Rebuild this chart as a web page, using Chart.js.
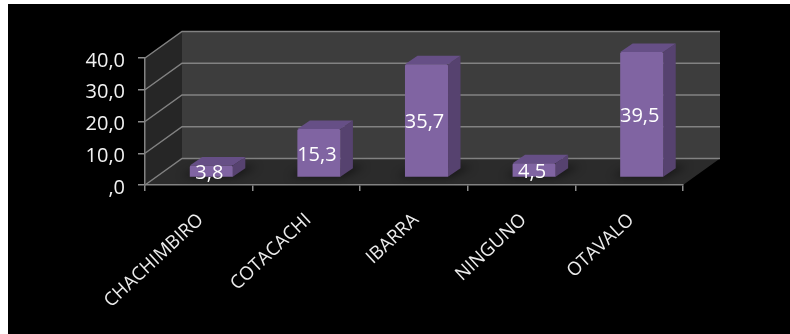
<!DOCTYPE html>
<html><head><meta charset="utf-8">
<style>html,body{margin:0;padding:0;background:#fff}canvas{display:block}</style>
<script src="https://cdn.jsdelivr.net/npm/chart.js@4"></script>
</head><body>
<div style="width:790px;height:334px"><canvas id="c" width="790" height="334"></canvas></div>
<script>
const categories = ["CHACHIMBIRO","COTACACHI","IBARRA","NINGUNO","OTAVALO"];
const seriesValues = [3.8,15.3,35.7,4.5,39.5];
const valueLabels = ["3,8","15,3","35,7","4,5","39,5"];
const yTickLabels = {0:",0",10:"10,0",20:"20,0",30:"30,0",40:"40,0"};

const FONT = '"Open Sans"';
const WALL_DX = 37, WALL_DY = -26.5;
const BAR_DX = 12.5, BAR_DY = -7.5, BAR_SIDE_DX = 12.5, BAR_SIDE_DY = -8.5;

const scene = {
  id:'scene',
  beforeDraw(chart){
    const {ctx,chartArea:a,scales:{y}} = chart;
    ctx.save();
    ctx.fillStyle='#fff'; ctx.fillRect(0,0,chart.width,chart.height);
    ctx.fillStyle='#000'; ctx.fillRect(8,4,chart.width-8,chart.height-4);
    const l=a.left,r=a.right,t=a.top,b=a.bottom;
    const poly=(pts,fill)=>{ctx.beginPath();pts.forEach((p,i)=>i?ctx.lineTo(p[0],p[1]):ctx.moveTo(p[0],p[1]));ctx.closePath();ctx.fillStyle=fill;ctx.fill();};
    poly([[l+WALL_DX,t+WALL_DY],[r+WALL_DX,t+WALL_DY],[r+WALL_DX,b+WALL_DY],[l+WALL_DX,b+WALL_DY]],'#3d3d3d');
    poly([[l,t],[l+WALL_DX,t+WALL_DY],[l+WALL_DX,b+WALL_DY],[l,b]],'#262626');
    poly([[l,b],[l+WALL_DX,b+WALL_DY],[r+WALL_DX,b+WALL_DY],[r,b]],'#2b2b2b');
    ctx.strokeStyle='#828282'; ctx.lineWidth=1.5;
    y.ticks.forEach(tk=>{
      const py=y.getPixelForValue(tk.value);
      ctx.beginPath();
      ctx.moveTo(l,py);ctx.lineTo(l+WALL_DX,py+WALL_DY);ctx.lineTo(r+WALL_DX,py+WALL_DY);
      ctx.stroke();
    });
    ctx.restore();
  },
  beforeDatasetsDraw(chart){
    const {ctx}=chart;
    const meta=chart.getDatasetMeta(0);
    ctx.save();
    ctx.translate(BAR_DX,BAR_DY);
    meta.data.forEach(bar=>{
      const x0=bar.x-bar.width/2,x1=bar.x+bar.width/2,top=bar.y,base=bar.base;
      ctx.save();
      ctx.filter='blur(4px)';
      ctx.fillStyle='rgba(0,0,0,0.55)';
      ctx.beginPath();
      ctx.moveTo(x0-8,base);ctx.lineTo(x1+2,base);ctx.lineTo(x1+BAR_SIDE_DX+12,base+BAR_SIDE_DY-2);ctx.lineTo(x0+BAR_SIDE_DX,base+BAR_SIDE_DY-2);
      ctx.closePath();ctx.fill();
      ctx.restore();
      ctx.fillStyle='#56426f';
      ctx.beginPath();
      ctx.moveTo(x1,top);ctx.lineTo(x1+BAR_SIDE_DX,top+BAR_SIDE_DY);ctx.lineTo(x1+BAR_SIDE_DX,base+BAR_SIDE_DY);ctx.lineTo(x1,base);
      ctx.closePath();ctx.fill();
      ctx.fillStyle='#664f86';
      ctx.beginPath();
      ctx.moveTo(x0,top);ctx.lineTo(x0+BAR_SIDE_DX,top+BAR_SIDE_DY);ctx.lineTo(x1+BAR_SIDE_DX,top+BAR_SIDE_DY);ctx.lineTo(x1,top);
      ctx.closePath();ctx.fill();
    });
  },
  afterDatasetsDraw(chart){
    const {ctx}=chart;
    const meta=chart.getDatasetMeta(0);
    ctx.fillStyle='#ffffff';
    ctx.font='20px '+FONT;
    ctx.textAlign='center';ctx.textBaseline='middle';
    meta.data.forEach((bar,i)=>{
      ctx.fillText(valueLabels[i],bar.x-2,(bar.y+bar.base)/2+2);
    });
    ctx.restore();
  }
};

new Chart(document.getElementById('c'),{
  type:'bar',
  data:{labels:categories,datasets:[{data:seriesValues,backgroundColor:'#8064a2',borderWidth:0,borderRadius:1.5,categoryPercentage:1,barPercentage:0.4}]},
  plugins:[scene],
  options:{
    responsive:false,animation:false,
    layout:{padding:{left:0,top:58,right:107,bottom:0}},
    plugins:{legend:{display:false},tooltip:{enabled:false}},
    scales:{
      x:{
        afterFit(s){s.height=149;},
        grid:{display:true,drawOnChartArea:false,drawTicks:true,tickLength:6,color:'#8c8c8c',lineWidth:1.5},
        border:{display:true,color:'#828282',width:1.5},
        ticks:{color:'#ececec',font:{family:FONT,size:18.6},minRotation:43,maxRotation:43,autoSkip:false,padding:18,labelOffset:2}
      },
      y:{
        min:0,max:40,
        afterFit(s){s.width=145;},
        grid:{display:true,drawOnChartArea:false,drawTicks:true,tickLength:7,color:'#8c8c8c',lineWidth:1.5},
        border:{display:true,color:'#828282',width:1.5},
        ticks:{stepSize:10,color:'#f2f2f2',font:{family:FONT,size:20},padding:13,labelOffset:3,callback:v=>yTickLabels[v]}
      }
    }
  }
});
</script>
</body></html>
